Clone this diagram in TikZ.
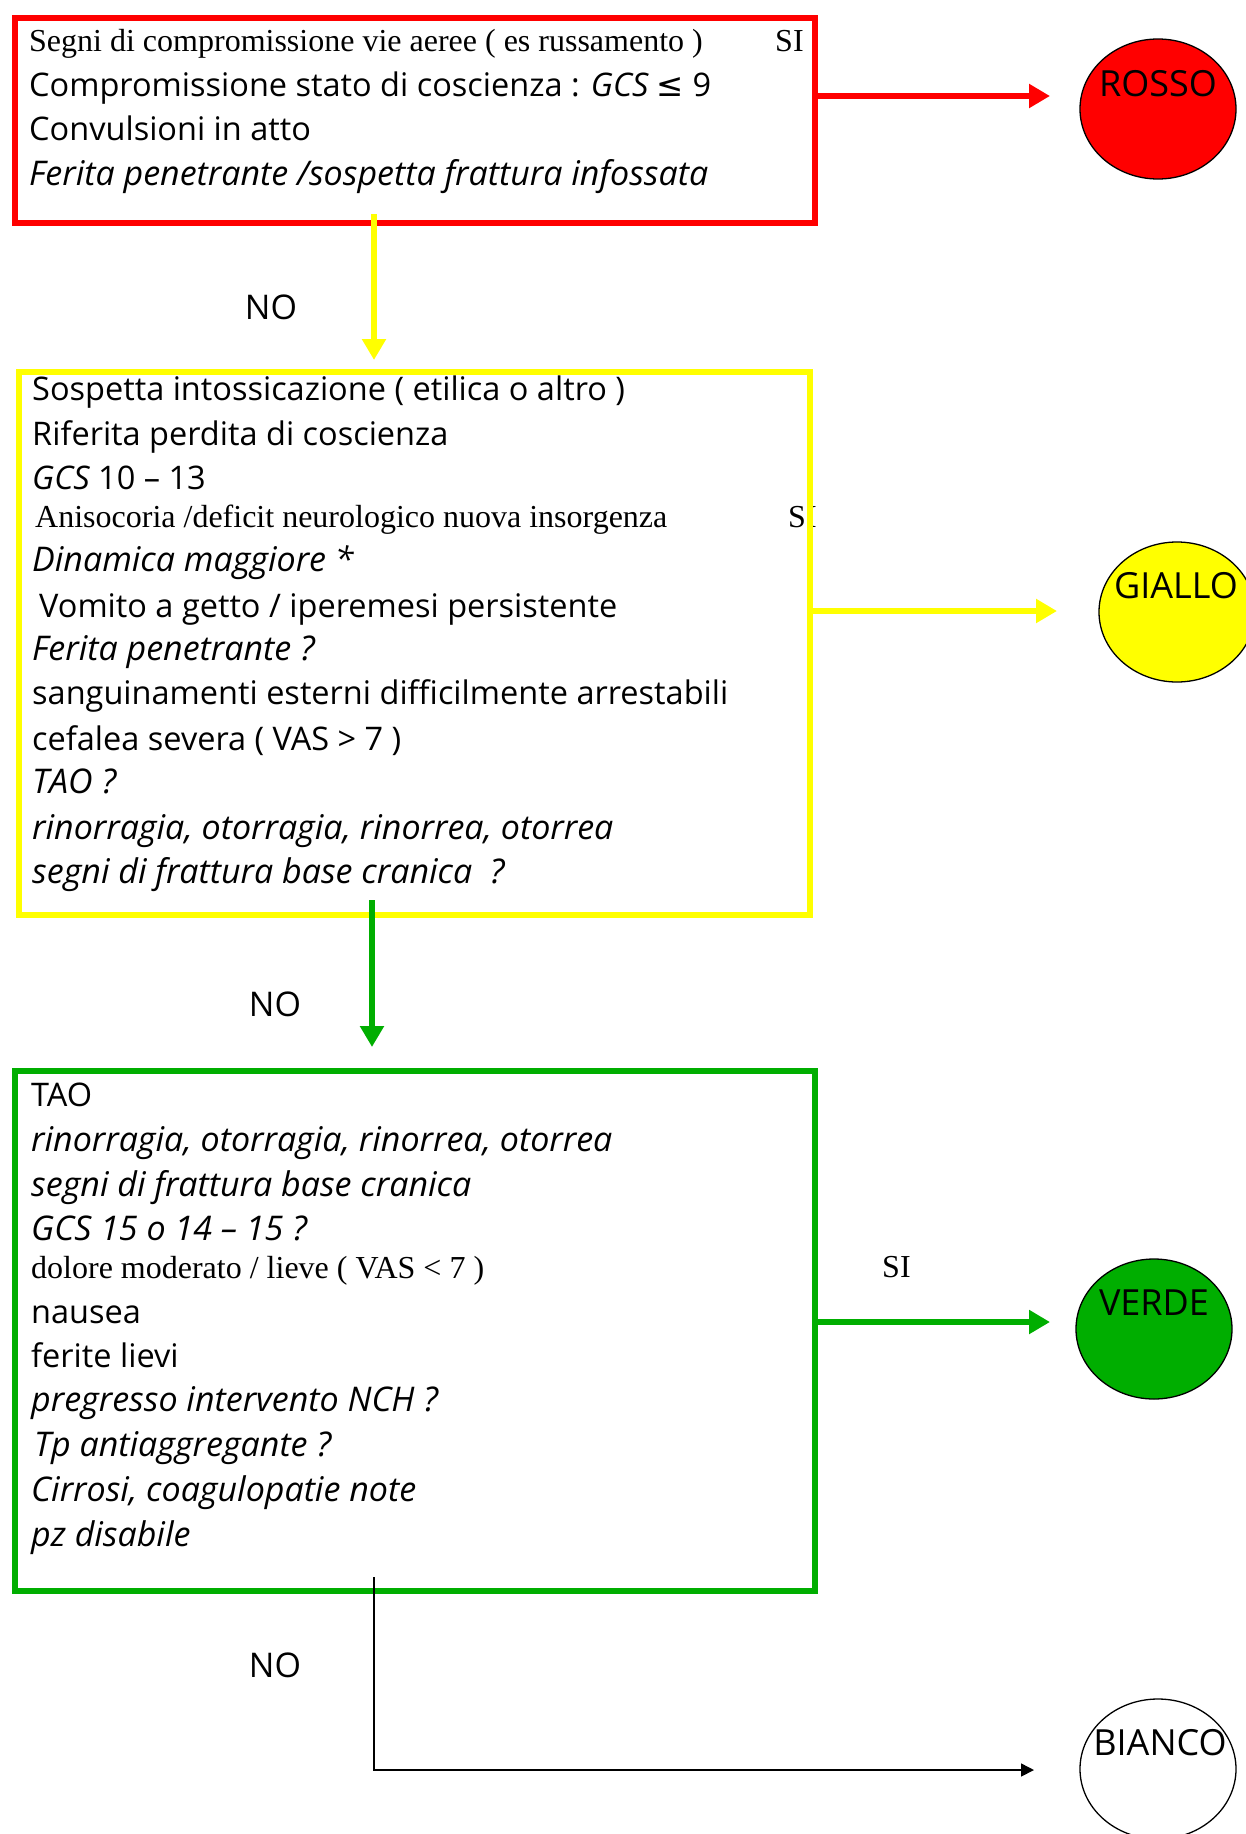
\documentclass[tikz,border=0pt]{standalone}
\usepackage{fontspec}
\setmainfont{Open Sans}
\newfontfamily\tnrfont{Liberation Serif}
\newfontfamily\dvsfont{DejaVu Sans}
\usetikzlibrary{arrows.meta,shapes.geometric}
\definecolor{vgreen}{RGB}{0,174,0}
\definecolor{vyellow}{RGB}{255,255,0}
\definecolor{vred}{RGB}{255,0,0}
\begin{document}
\begin{tikzpicture}[x=1pt,y=-1pt,
  ln/.style={anchor=base west, inner sep=0pt},
  cs/.style={ln, font=\fontsize{32.5}{38}\selectfont},
  csi/.style={ln, font=\fontsize{34}{38}\selectfont\itshape},
  tr/.style={ln, font=\tnrfont\fontsize{32}{38}\selectfont},
  boxframe/.style={draw=#1, line width=6pt, anchor=north west, inner sep=0pt},
  flowarrow/.style={draw=#1, line width=6pt, -{Triangle[length=21pt,width=23pt]}},
  disc/.style={ellipse, draw=black, line width=1.3pt, fill=#1, minimum width=156pt, minimum height=140pt, inner sep=0pt},
  lbl/.style={inner sep=0pt, font=\fontsize{36}{40}\selectfont},
  nolbl/.style={inner sep=0pt, font=\fontsize{34}{38}\selectfont},
  thinarrow/.style={draw=black, line width=1.6pt, -{Triangle[length=13pt,width=13pt]}}
]
\useasboundingbox[fill=white] (0,0) rectangle (1245,1834);

% ---------- red box texts
\node[tr]  (r1) at (29,51) {Segni di compromissione vie aeree ( es russamento )};
\node[tr]  (rsi) at (775,51) {SI};
\node[cs]  (r2) at (29,96) {Compromissione stato di coscienza : {\itshape GCS} {\dvsfont ≤} 9};
\node[cs]  (r3) at (29,140) {Convulsioni in atto};
\node[csi] (r4) at (29,185) {Ferita penetrante /sospetta frattura infossata};

% ---------- yellow box texts
\node[cs]  (y1) at (32,400) {Sospetta intossicazione ( etilica o altro )};
\node[cs]  (y2) at (32,445) {Riferita perdita di coscienza};
\node[cs]  (y3) at (32,489) {{\itshape GCS} 10 – 13};
\node[tr]  (y4) at (35,527) {Anisocoria /deficit neurologico nuova insorgenza};
\node[tr]  (ysi) at (788,527) {SI};
\node[csi] (y5) at (32,571) {Dinamica maggiore *};
\node[cs]  (y6) at (39,617) {Vomito a getto / iperemesi persistente};
\node[csi] (y7) at (32,660) {Ferita penetrante ?};
\node[cs]  (y8) at (32,704) {sanguinamenti esterni difficilmente arrestabili};
\node[cs]  (y9) at (32,750) {cefalea severa ( VAS > 7 )};
\node[csi] (y10) at (32,793) {TAO ?};
\node[csi] (y11) at (32,839) {rinorragia, otorragia, rinorrea, otorrea};
\node[csi] (y12) at (32,883) {segni di frattura base cranica\ \ ?};

% ---------- green box texts
\node[cs]  (g1) at (31,1106) {TAO};
\node[csi] (g2) at (31,1151) {rinorragia, otorragia, rinorrea, otorrea};
\node[csi] (g3) at (31,1196) {segni di frattura base cranica};
\node[csi] (g4) at (31,1240) {GCS 15 o 14 – 15 ?};
\node[tr]  (g5) at (31,1278) {dolore moderato / lieve ( VAS < 7 )};
\node[cs]  (g6) at (31,1323) {nausea};
\node[cs]  (g7) at (31,1367) {ferite lievi};
\node[csi] (g8) at (31,1411) {pregresso intervento NCH ?};
\node[csi] (g9) at (34,1456) {Tp antiaggregante ?};
\node[csi] (g10) at (31,1501) {Cirrosi, coagulopatie note};
\node[csi] (g11) at (31,1546) {pz disabile};
\node[tr]  (gsi) at (882,1277) {SI};

% ---------- boxes
\node[boxframe=vred, minimum width=800pt, minimum height=205pt] (rbox) at (12,15) {};
\node[boxframe=vyellow, minimum width=791pt, minimum height=543pt] (ybox) at (16,369) {};
\node[boxframe=vgreen, minimum width=800pt, minimum height=520pt] (gbox) at (12,1068) {};

% ---------- outcome discs
\node[disc=vred] (rosso) at (1158,109) {};
\node[lbl] (rossot) at (1158,84) {ROSSO};
\node[disc=vyellow] (giallo) at (1177,612) {};
\node[lbl] (giallot) at (1176,586) {GIALLO};
\node[disc=vgreen] (verde) at (1154,1329) {};
\node[lbl] (verdet) at (1154,1303) {VERDE};
\node[disc=white] (bianco) at (1158,1769) {};
\node[lbl] (biancot) at (1160,1743) {BIANCO};

% ---------- NO labels
\node[nolbl] (no1) at (271,307) {NO};
\node[nolbl] (no2) at (275,1004) {NO};
\node[nolbl] (no3) at (275,1665) {NO};

% ---------- connectors
\coordinate (ra) at (1050,96);
\coordinate (ys) at (374,214);
\coordinate (ye) at (374,360);
\coordinate (yr) at (1057,611);
\coordinate (gs) at (372,900);
\coordinate (ge) at (372,1047);
\coordinate (gr) at (1050,1322);
\coordinate (bs) at (374,1577);
\coordinate (bc) at (374,1770);
\coordinate (be) at (1034,1770);

\draw[flowarrow=vred] (rbox.east |- ra) -- (ra);
\draw[flowarrow=vyellow] (ys) -- (ye);
\draw[flowarrow=vyellow] (ybox.east |- yr) -- (yr);
\draw[flowarrow=vgreen] (gs) -- (ge);
\draw[flowarrow=vgreen] (gbox.east |- gr) -- (gr);
\draw[thinarrow] (bs) -- (bc) -- (be);
\end{tikzpicture}
\end{document}
